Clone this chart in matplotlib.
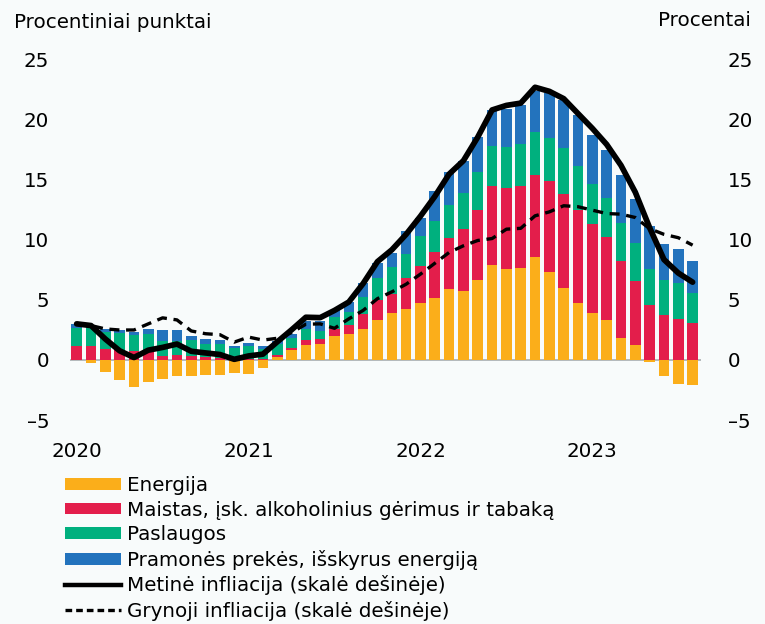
import matplotlib
matplotlib.use("Agg")
import matplotlib.pyplot as plt
from matplotlib.patches import Patch
from matplotlib.lines import Line2D
import numpy as np
import pandas as pd

# ---- data ----
months = pd.date_range("2020-01-01", "2023-08-01", freq="MS")
year_labels = ["2020", "2021", "2022", "2023"]

energy = [0.0, -0.22, -0.98, -1.68, -2.24, -1.82, -1.57, -1.34, -1.37, -1.26, -1.23, -1.12,
          -1.18, -0.67, 0.28, 0.84, 1.26, 1.32, 1.99, 2.16, 2.55, 3.33, 3.89, 4.26,
          4.76, 5.15, 5.88, 5.71, 6.69, 7.87, 7.56, 7.65, 8.54, 7.31, 6.02, 4.71,
          3.87, 3.31, 1.79, 1.20, -0.14, -1.32, -2.02, -2.07]
food = [1.18, 1.12, 0.95, 0.81, 0.76, 0.62, 0.34, 0.42, 0.36, 0.25, 0.17, 0.06,
        0.10, 0.10, 0.17, 0.14, 0.39, 0.39, 0.59, 0.78, 1.29, 1.68, 1.57, 2.57,
        3.08, 3.81, 4.26, 5.19, 5.77, 6.58, 6.75, 6.85, 6.86, 7.54, 7.82, 7.78,
        7.45, 6.94, 6.45, 5.33, 4.57, 3.73, 3.42, 3.08]
services = [1.48, 1.54, 1.35, 1.43, 1.34, 1.51, 1.26, 1.18, 1.26, 1.09, 1.17, 0.94,
            1.05, 0.82, 0.89, 0.84, 0.93, 0.73, 1.03, 1.04, 1.40, 1.77, 2.24, 1.97,
            2.44, 2.64, 2.75, 3.02, 3.14, 3.35, 3.42, 3.48, 3.59, 3.64, 3.81, 3.64,
            3.36, 3.20, 3.13, 3.22, 3.02, 2.91, 2.97, 2.47]
goods = [0.34, 0.28, 0.28, 0.25, 0.25, 0.45, 0.89, 0.89, 0.38, 0.36, 0.28, 0.15,
         0.28, 0.23, 0.25, 0.33, 0.70, 0.78, 0.51, 0.84, 1.12, 1.26, 1.20, 1.90,
         1.50, 2.46, 2.71, 2.66, 2.94, 2.96, 3.17, 3.22, 3.41, 3.71, 4.00, 4.27,
         4.02, 4.00, 3.98, 3.65, 3.56, 3.00, 2.85, 2.71]
headline = [3.0, 2.86, 1.74, 0.76, 0.2, 0.81, 1.04, 1.32, 0.72, 0.58, 0.45, 0.05,
            0.33, 0.48, 1.5, 2.5, 3.55, 3.52, 4.12, 4.82, 6.36, 8.18, 9.16, 10.45,
            11.96, 13.6, 15.46, 16.58, 18.54, 20.8, 21.18, 21.37, 22.69, 22.35, 21.74, 20.5,
            19.27, 17.93, 16.19, 13.95, 11.0, 8.35, 7.23, 6.47]
core = [3.05, 2.86, 2.58, 2.49, 2.49, 3.0, 3.5, 3.33, 2.41, 2.18, 2.1, 1.48,
        1.9, 1.65, 1.8, 2.27, 2.97, 3.0, 2.63, 3.42, 4.12, 5.1, 5.66, 6.3,
        7.14, 8.04, 8.94, 9.5, 9.94, 10.1, 10.88, 10.95, 11.99, 12.32, 12.83, 12.75,
        12.46, 12.18, 12.13, 11.85, 10.92, 10.45, 10.17, 9.55]

labels = ["Energija",
          "Maistas, įsk. alkoholinius gėrimus ir tabaką",
          "Paslaugos",
          "Pramonės prekės, išskyrus energiją",
          "Metinė infliacija (skalė dešinėje)",
          "Grynoji infliacija (skalė dešinėje)"]
colors = ["#fbae1a", "#e31e4b", "#00b07e", "#2373bd"]

# ---- figure ----
plt.rcParams["font.family"] = ["DejaVu Sans"]
FS = 14.3
W, H = 765, 624
fig = plt.figure(figsize=(W / 100, H / 100), dpi=100)
fig.patch.set_facecolor("#f8fbfb")

left, right, top, bottom = 69.5, 700.5, 59.5, 420.0
ax = fig.add_axes([left / W, 1 - bottom / H, (right - left) / W, (bottom - top) / H])
ax.set_facecolor("none")

x = np.arange(len(months))
e = np.array(energy); f = np.array(food); s = np.array(services); g = np.array(goods)
pos_base = np.where(e > 0, e, 0.0)
bw = 0.74
ax.bar(x, e, width=bw, color=colors[0], zorder=2)
ax.bar(x, f, bottom=pos_base, width=bw, color=colors[1], zorder=2)
ax.bar(x, s, bottom=pos_base + f, width=bw, color=colors[2], zorder=2)
ax.bar(x, g, bottom=pos_base + f + s, width=bw, color=colors[3], zorder=2)
ax.axhline(0, color="#a8adb0", lw=1.2, zorder=1)

ax2 = ax.twinx()
ax2.plot(x, headline, color="black", lw=4.1, solid_joinstyle="round", solid_capstyle="round", zorder=4)
ax2.plot(x, core, color="black", lw=2.4, ls=(0, (3.0, 2.0)), zorder=3)

for a in (ax, ax2):
    a.set_ylim(-5, 25)
    a.set_xlim(-0.5, 43.55)
    a.set_yticks([-5, 0, 5, 10, 15, 20, 25])
    for sp in a.spines.values():
        sp.set_visible(False)
    a.tick_params(length=0, labelsize=FS)

ax.set_yticklabels(["\u20135", "0", "5", "10", "15", "20", "25"])
ax2.set_yticklabels(["\u20135", "0", "5", "10", "15", "20", "25"])
ax.tick_params(axis="y", pad=14.5)
ax2.tick_params(axis="y", pad=19.5)
for t in ax2.get_yticklabels():
    t.set_horizontalalignment("left")

year_pos = [int(np.where((months.year == int(y)) & (months.month == 1))[0][0]) for y in year_labels]
ax.set_xticks(year_pos)
ax.set_xticklabels(year_labels)
ax.tick_params(axis="x", pad=16)

fig.text(14 / W, 1 - 22 / H, "Procentiniai punktai", fontsize=FS, ha="left", va="center")
fig.text(751 / W, 1 - 21 / H, "Procentai", fontsize=FS, ha="right", va="center")

handles = [Patch(facecolor=c, edgecolor="none") for c in colors] + [
    Line2D([0], [0], color="black", lw=3.2),
    Line2D([0], [0], color="black", lw=2.4, ls=(0, (2.0, 1.2))),
]
leg = fig.legend(handles, labels, loc="upper left", bbox_to_anchor=(65 / W, 1 - 476 / H),
                 frameon=False, fontsize=FS, handlelength=2.8, handleheight=0.54,
                 handletextpad=0.3, labelspacing=0.28, borderpad=0, borderaxespad=0)

fig.savefig("out.png", dpi=100, facecolor=fig.get_facecolor())
